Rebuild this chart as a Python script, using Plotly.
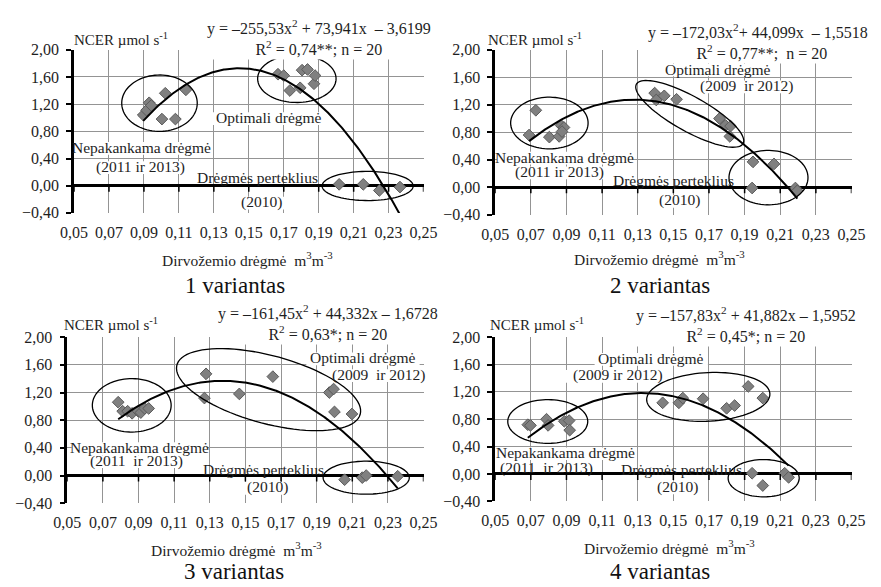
import numpy as np
import plotly.graph_objects as go

# ---------------- data ----------------
tick_x = [0.05, 0.07, 0.09, 0.11, 0.13, 0.15, 0.17, 0.19, 0.21, 0.23, 0.25]
tick_y = [-0.40, 0.00, 0.40, 0.80, 1.20, 1.60, 2.00]

p1_x = [0.0896, 0.0915, 0.0930, 0.0942, 0.1003, 0.1022, 0.1080, 0.1140,
        0.1667, 0.1700, 0.1735, 0.1794, 0.1805, 0.1836, 0.1873, 0.1879,
        0.2017, 0.2155, 0.2247, 0.2365]
p1_y = [1.04, 1.11, 1.22, 1.18, 0.98, 1.36, 0.98, 1.41,
        1.64, 1.62, 1.40, 1.44, 1.70, 1.71, 1.50, 1.62,
        0.02, 0.02, -0.07, -0.02]

p2_x = [0.0690, 0.0728, 0.0804, 0.0859, 0.0870, 0.0886, 0.0875,
        0.1395, 0.1404, 0.1449, 0.1518, 0.1759, 0.1793, 0.1821, 0.1817,
        0.1947, 0.2065, 0.1942, 0.2185, 0.2196]
p2_y = [0.76, 1.12, 0.73, 0.74, 0.90, 0.87, 0.81,
        1.37, 1.27, 1.33, 1.28, 1.00, 0.90, 0.89, 0.74,
        0.37, 0.34, -0.01, -0.01, -0.05]

p3_x = [0.0786, 0.0811, 0.0839, 0.0864, 0.0898, 0.0913, 0.0935, 0.0957,
        0.1279, 0.1270, 0.1466, 0.1654, 0.1971, 0.1995, 0.2000, 0.2098,
        0.2057, 0.2156, 0.2178, 0.2355]
p3_y = [1.06, 0.93, 0.93, 0.90, 0.93, 0.91, 0.97, 0.97,
        1.47, 1.12, 1.18, 1.43, 1.20, 1.25, 0.92, 0.89,
        -0.06, -0.03, 0.00, -0.01]

p4_x = [0.0683, 0.0698, 0.0788, 0.0797, 0.0888, 0.0915, 0.0918,
        0.1440, 0.1531, 0.1553, 0.1667, 0.1799, 0.1844, 0.1920, 0.2002,
        0.1942, 0.2002, 0.2125, 0.2147]
p4_y = [0.72, 0.71, 0.80, 0.71, 0.77, 0.78, 0.64,
        1.04, 1.04, 1.11, 1.10, 0.96, 1.00, 1.28, 1.11,
        0.01, -0.17, 0.01, -0.05]

# trendline coefficients (a, b, c) of y = a x^2 + b x + c, as printed on chart
coef1 = [-255.53, 73.941, -3.6199]
coef2 = [-172.03, 44.099, -1.5518]
coef3 = [-161.45, 44.332, -1.6728]
coef4 = [-157.83, 41.882, -1.5952]

eq1 = "y = –255,53x<sup>2</sup> + 73,941x  – 3,6199<br>R<sup>2</sup> = 0,74**; n = 20"
eq2 = "y = –172,03x<sup>2</sup>+ 44,099x  – 1,5518<br>  R<sup>2</sup> = 0,77**;  n = 20"
eq3 = "y = –161,45x<sup>2</sup> + 44,332x – 1,6728<br>R<sup>2</sup> = 0,63*; n = 20"
eq4 = "y = –157,83x<sup>2</sup> + 41,882x – 1,5952<br>R<sup>2</sup> = 0,45*; n = 20"

titles = ["1 variantas", "2 variantas", "3 variantas", "4 variantas"]

# ---------------- layout geometry (pixels) ----------------
W, H = 881, 587
FONT = "Liberation Serif, Times New Roman, serif"
TXT = "#1e1e1e"
LBL = 15.5
panels = [
    dict(l=62, r=423, t=43, b=211),
    dict(l=497, r=865, t=43, b=213),
    dict(l=55, r=423, t=339, b=510),
    dict(l=497, r=865, t=339, b=508),
]
XR = [0.05, 0.25]
YR = [-0.40, 2.00]


def fx(px):
    return px / W


def fy(py):
    return 1 - py / H


def ellipse_path(cx, cy, a, b, ang, kx, ky, n=90):
    t = np.linspace(0, 2 * np.pi, n)
    th = np.radians(ang)
    u, v = a * np.cos(t), b * np.sin(t)
    dx = u * np.cos(th) - v * np.sin(th)
    dy = u * np.sin(th) + v * np.cos(th)
    xs = cx + dx / kx
    ys = cy + dy / ky
    s = "M %f,%f " % (xs[0], ys[0])
    s += " ".join("L %f,%f" % (x, y) for x, y in zip(xs[1:], ys[1:]))
    return s + " Z"


fig = go.Figure()
xs_all = [p1_x, p2_x, p3_x, p4_x]
ys_all = [p1_y, p2_y, p3_y, p4_y]
coefs = [coef1, coef2, coef3, coef4]
eqs = [eq1, eq2, eq3, eq4]

# ellipses: (cx, cy data, a px, b px, angle deg)
ellipses = [
    [(0.0989, 1.214, 39, 29, 0), (0.1775, 1.574, 40.5, 24.5, 0), (0.2180, -0.004, 47, 15, 0)],
    [(0.0804, 0.935, 40, 26.6, 0), (0.1592, 1.068, 63, 18, -29), (0.2034, 0.141, 40.8, 28, 0)],
    [(0.0862, 1.015, 40.7, 27.5, 0), (0.1630, 1.242, 98, 35, -15), (0.2178, -0.031, 44.5, 17, 0)],
    [(0.0795, 0.767, 41.3, 22.5, 0), (0.1696, 1.127, 63.7, 25, 3), (0.2007, -0.062, 36.7, 19.2, 0)],
]

# cluster labels: text, x, y (data), white patch behind (hides grid)?
labels = [
    [("Optimali drėgmė", 0.1615, 1.00, True), ("Nepakankama drėgmė", 0.0887, 0.565, True),
     ("(2011 ir 2013)", 0.0878, 0.28, True), ("Drėgmės perteklius", 0.155, 0.123, False),
     ("(2010)", 0.157, -0.243, True)],
    [("Optimali drėgmė", 0.1749, 1.72, True), ("(2009  ir 2012)", 0.1912, 1.475, True),
     ("Nepakankama drėgmė", 0.0889, 0.44, True), ("(2011 ir 2013)", 0.0862, 0.225, True),
     ("Drėgmės perteklius", 0.1499, 0.10, False), ("(2010)", 0.1536, -0.19, True)],
    [("Optimali drėgmė", 0.216, 1.70, True), ("(2009  ir 2012)", 0.2247, 1.46, True),
     ("Nepakankama drėgmė", 0.0904, 0.405, True), ("(2011  ir 2013)", 0.0886, 0.215, True),
     ("Drėgmės perteklius", 0.1604, 0.09, False), ("(2010)", 0.1622, -0.17, True)],
    [("Optimali drėgmė", 0.1376, 1.69, True), ("(2009 ir 2012)", 0.1189, 1.44, True),
     ("Nepakankama drėgmė", 0.0892, 0.31, True), ("(2011  ir 2013)", 0.0787, 0.08, False),
     ("Drėgmės perteklius", 0.1543, 0.07, False), ("(2010)", 0.1521, -0.19, True)],
]

# pixel positions (centres) of texts outside plot areas
ncer_pos = [(60, 32), (488, 32), (50, 325), (490, 325)]
eq_pos = [(315, 30), (768, 35), (324, 324), (756, 326)]
xtitle_pos = [(241, 258), (667, 257), (230, 557), (677, 555)]
var_pos = [(228, 286), (667, 286), (227, 580), (667, 580)]

shapes = []
annotations = []
layout_axes = {}

for i in range(4):
    p = panels[i]
    xn = "x" if i == 0 else "x%d" % (i + 1)
    yn = "y" if i == 0 else "y%d" % (i + 1)
    xk = "xaxis" if i == 0 else "xaxis%d" % (i + 1)
    yk = "yaxis" if i == 0 else "yaxis%d" % (i + 1)
    kx = (p["r"] - p["l"]) / (XR[1] - XR[0])
    ky = (p["b"] - p["t"]) / (YR[1] - YR[0])

    layout_axes[xk] = dict(
        domain=[fx(p["l"]), fx(p["r"])], range=XR, anchor=yn,
        tickvals=tick_x, tickformat=".2f", showgrid=True, gridcolor="#949494",
        gridwidth=1, showline=False, zeroline=False, ticks="",
        ticklabelstandoff=8,
        tickfont=dict(family=FONT, size=16, color=TXT),
    )
    layout_axes[yk] = dict(
        domain=[fy(p["b"]), fy(p["t"])], range=YR, anchor=xn,
        tickvals=tick_y, tickformat=".2f", showgrid=True, gridcolor="#949494",
        gridwidth=1, showline=True, linecolor="black", linewidth=2.5,
        ticks="outside", ticklen=5, tickwidth=1.5, tickcolor="black",
        zeroline=True, zerolinecolor="black", zerolinewidth=2.5,
        ticklabelstandoff=4,
        tickfont=dict(family=FONT, size=16, color=TXT),
    )

    # scatter points
    fig.add_trace(go.Scatter(
        x=xs_all[i], y=ys_all[i], mode="markers", xaxis=xn, yaxis=yn,
        marker=dict(symbol="diamond", size=9, color="#808080",
                    line=dict(color="#5a5a5a", width=1)),
        showlegend=False, cliponaxis=False))

    # trendline from printed coefficients
    a, b, c = coefs[i]
    tx = np.linspace(min(xs_all[i]), max(xs_all[i]), 300)
    ty = a * tx ** 2 + b * tx + c
    fig.add_trace(go.Scatter(
        x=tx, y=ty, mode="lines", xaxis=xn, yaxis=yn,
        line=dict(color="black", width=2), showlegend=False))

    # white patches behind label texts (above grid, below marks)
    for (txt, lx, ly, bg) in labels[i]:
        if bg:
            w = 0.47 * LBL * len(txt) + 4
            h = 0.82 * LBL
            shapes.append(dict(type="rect", xref=xn, yref=yn, layer="between",
                               xsizemode="pixel", xanchor=lx, x0=-w / 2, x1=w / 2,
                               ysizemode="pixel", yanchor=ly, y0=-h / 2 - 1, y1=h / 2 - 1,
                               fillcolor="white", line=dict(width=0)))

    # tick marks on the zero line
    for t in tick_x:
        shapes.append(dict(type="line", xref=xn, yref=yn, x0=t, x1=t,
                           ysizemode="pixel", yanchor=0, y0=0, y1=-6,
                           line=dict(color="black", width=1.5)))

    # ellipses
    for (cx, cy, ea, eb, ang) in ellipses[i]:
        shapes.append(dict(type="path", xref=xn, yref=yn,
                           path=ellipse_path(cx, cy, ea, eb, ang, kx, ky),
                           line=dict(color="black", width=1.3)))

    # cluster labels
    for (txt, lx, ly, bg) in labels[i]:
        annotations.append(dict(text=txt, x=lx, y=ly, xref=xn, yref=yn,
                                xanchor="center", yanchor="middle",
                                showarrow=False, borderpad=0,
                                font=dict(family=FONT, size=LBL, color=TXT)))

    # NCER label
    annotations.append(dict(text="NCER µmol s<sup>-1</sup>", x=fx(ncer_pos[i][0]),
                            y=fy(ncer_pos[i][1]), xref="paper", yref="paper",
                            xanchor="left", yanchor="middle", showarrow=False,
                            font=dict(family=FONT, size=15, color=TXT)))
    # equation (two lines, white box hides grid)
    ex, ey = eq_pos[i]
    annotations.append(dict(text=eqs[i], x=fx(ex), y=fy(ey), xref="paper",
                            yref="paper", xanchor="center", yanchor="middle",
                            align="center", showarrow=False, bgcolor="white",
                            borderpad=1,
                            font=dict(family=FONT, size=16, color=TXT)))
    # x title
    annotations.append(dict(text="Dirvožemio drėgmė  m<sup>3</sup>m<sup>-3</sup>",
                            x=fx(xtitle_pos[i][0]), y=fy(xtitle_pos[i][1]),
                            xref="paper", yref="paper", xanchor="center",
                            yanchor="middle", showarrow=False,
                            font=dict(family=FONT, size=15.5, color=TXT)))
    # variant title
    annotations.append(dict(text=titles[i], x=fx(var_pos[i][0]), y=fy(var_pos[i][1]),
                            xref="paper", yref="paper", xanchor="center",
                            yanchor="middle", showarrow=False,
                            font=dict(family=FONT, size=23, color="#111")))

fig.update_layout(
    width=W, height=H, margin=dict(l=0, r=0, t=0, b=0),
    paper_bgcolor="white", plot_bgcolor="white",
    separators=",.", showlegend=False,
    shapes=shapes, annotations=annotations, **layout_axes)

fig.write_html("out.html")
